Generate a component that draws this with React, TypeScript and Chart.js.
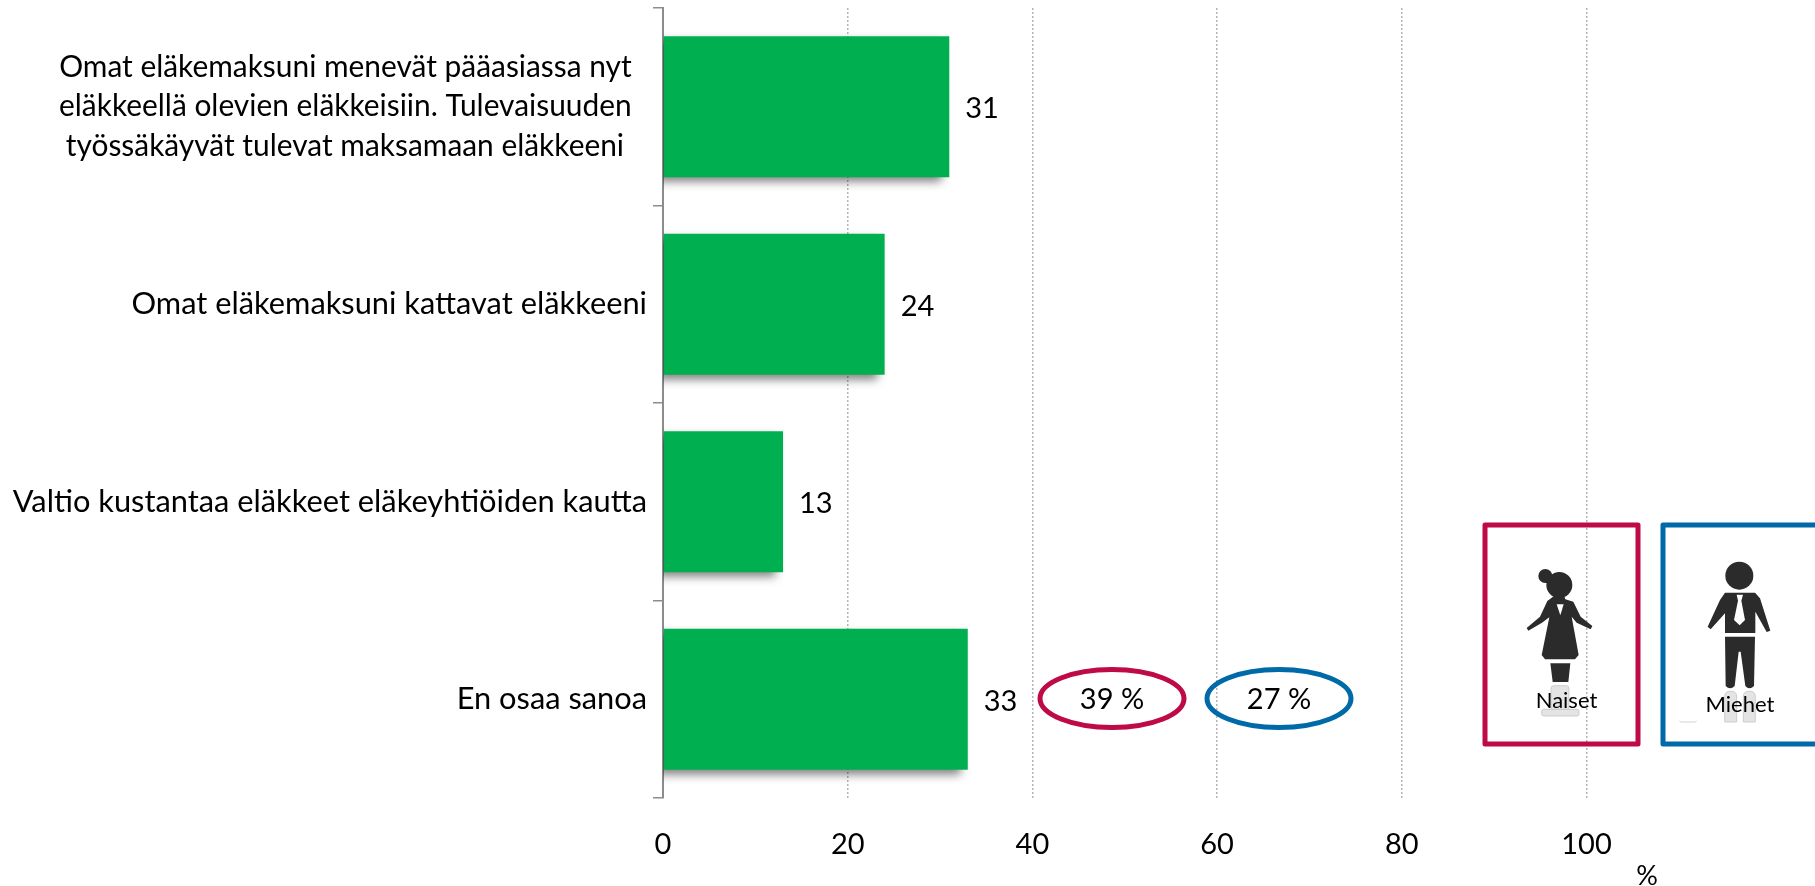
import React, { useEffect, useRef } from "react";
import { Chart, registerables } from "chart.js";

Chart.register(...registerables);

const categories: (string | string[])[] = [
  ["Omat eläkemaksuni menevät pääasiassa nyt\u00A0\u00A0", "eläkkeellä olevien eläkkeisiin. Tulevaisuuden\u00A0\u00A0", "työssäkäyvät tulevat maksamaan eläkkeeni\u00A0\u00A0\u00A0"],
  "Omat eläkemaksuni kattavat eläkkeeni",
  "Valtio kustantaa eläkkeet eläkeyhtiöiden kautta",
  "En osaa sanoa",
];
const values = [31, 24, 13, 33];
const FONT = "Lato, Carlito, 'Open Sans', sans-serif";
const CRIMSON = "#BE0A46";
const BLUE = "#0069A8";

function roundBox(ctx: CanvasRenderingContext2D, x0: number, y0: number, x1: number, y1: number, color: string) {
  ctx.strokeStyle = color;
  ctx.lineWidth = 5;
  ctx.lineJoin = "round";
  ctx.strokeRect(x0, y0, x1 - x0, y1 - y0);
}

function oval(ctx: CanvasRenderingContext2D, cx: number, cy: number, rx: number, ry: number, color: string, text: string) {
  ctx.beginPath();
  ctx.ellipse(cx, cy, rx, ry, 0, 0, Math.PI * 2);
  ctx.strokeStyle = color;
  ctx.lineWidth = 5;
  ctx.stroke();
  ctx.fillStyle = "#000";
  ctx.font = `29px ${FONT}`;
  ctx.textAlign = "center";
  ctx.textBaseline = "middle";
  ctx.fillText(text, cx, cy + 1);
}

// icons are traced in the zoomed (3x) space of the picture
function woman(ctx: CanvasRenderingContext2D) {
  ctx.save();
  ctx.translate(1460, 500);
  ctx.scale(1 / 3, 1 / 3);
  ctx.fillStyle = "#E4E4E4";
  ctx.strokeStyle = "#BDBDBD";
  ctx.lineWidth = 2;
  ctx.beginPath();
  ctx.roundRect(273, 557, 54, 72, 8);
  ctx.fill();
  ctx.stroke();
  ctx.beginPath();
  ctx.roundRect(245, 628, 112, 20, 6);
  ctx.fill();
  ctx.stroke();
  ctx.fillStyle = "#2B2B2B";
  ctx.beginPath();
  ctx.arc(256, 228, 21, 0, Math.PI * 2);
  ctx.arc(298, 255, 39, 0, Math.PI * 2);
  ctx.fill();
  ctx.beginPath();
  ctx.moveTo(286, 285);
  ctx.lineTo(312, 285);
  ctx.lineTo(316, 298);
  ctx.lineTo(340, 305);
  ctx.lineTo(362, 350);
  ctx.lineTo(397, 378);
  ctx.lineTo(392, 388);
  ctx.lineTo(350, 368);
  ctx.lineTo(335, 350);
  ctx.lineTo(356, 465);
  ctx.lineTo(345, 478);
  ctx.lineTo(255, 478);
  ctx.lineTo(245, 465);
  ctx.lineTo(268, 352);
  ctx.lineTo(246, 368);
  ctx.lineTo(205, 392);
  ctx.lineTo(200, 384);
  ctx.lineTo(240, 350);
  ctx.lineTo(262, 303);
  ctx.closePath();
  ctx.fill();
  ctx.beginPath();
  ctx.moveTo(271, 490);
  ctx.lineTo(331, 490);
  ctx.lineTo(325, 546);
  ctx.lineTo(278, 546);
  ctx.closePath();
  ctx.fill();
  ctx.fillStyle = "#fff";
  ctx.beginPath();
  ctx.moveTo(290, 313);
  ctx.lineTo(311, 313);
  ctx.lineTo(301, 346);
  ctx.closePath();
  ctx.fill();
  ctx.restore();
}

function man(ctx: CanvasRenderingContext2D) {
  ctx.save();
  ctx.translate(1460, 500);
  ctx.scale(1 / 3, 1 / 3);
  ctx.fillStyle = "#E4E4E4";
  ctx.strokeStyle = "#BDBDBD";
  ctx.lineWidth = 2;
  ctx.beginPath();
  ctx.roundRect(794, 574, 36, 92, [14, 14, 0, 0]);
  ctx.fill();
  ctx.stroke();
  ctx.beginPath();
  ctx.roundRect(850, 574, 36, 92, [14, 14, 0, 0]);
  ctx.fill();
  ctx.stroke();
  ctx.beginPath();
  ctx.moveTo(658, 662);
  ctx.lineTo(662, 666);
  ctx.lineTo(706, 666);
  ctx.lineTo(710, 662);
  ctx.stroke();
  ctx.fillStyle = "#2B2B2B";
  ctx.beginPath();
  ctx.arc(838, 227, 42, 0, Math.PI * 2);
  ctx.fill();
  ctx.beginPath();
  ctx.moveTo(795, 278);
  ctx.lineTo(885, 278);
  ctx.lineTo(900, 295);
  ctx.lineTo(931, 392);
  ctx.lineTo(920, 396);
  ctx.lineTo(886, 335);
  ctx.lineTo(886, 399);
  ctx.lineTo(795, 399);
  ctx.lineTo(795, 340);
  ctx.lineTo(752, 388);
  ctx.lineTo(743, 380);
  ctx.lineTo(780, 300);
  ctx.closePath();
  ctx.fill();
  ctx.beginPath();
  ctx.moveTo(795, 410);
  ctx.lineTo(885, 410);
  ctx.lineTo(882, 558);
  ctx.quadraticCurveTo(868, 572, 856, 558);
  ctx.lineTo(842, 455);
  ctx.lineTo(836, 455);
  ctx.lineTo(824, 558);
  ctx.quadraticCurveTo(810, 572, 797, 558);
  ctx.closePath();
  ctx.fill();
  ctx.fillStyle = "#fff";
  ctx.beginPath();
  ctx.moveTo(830, 284);
  ctx.lineTo(849, 284);
  ctx.lineTo(844, 302);
  ctx.lineTo(855, 360);
  ctx.lineTo(839, 376);
  ctx.lineTo(822, 360);
  ctx.lineTo(834, 302);
  ctx.closePath();
  ctx.fill();
  ctx.restore();
}

const overlay = {
  id: "overlay",
  beforeDatasetDraw(chart: any) {
    const c = chart.ctx;
    c.save();
    c.shadowColor = "rgba(0,0,0,0.5)";
    c.shadowBlur = 9;
    c.shadowOffsetX = -7;
    c.shadowOffsetY = 5;
  },
  afterDatasetDraw(chart: any) {
    chart.ctx.restore();
  },
  afterDraw(chart: any) {
    const c = chart.ctx;
    const xs = chart.scales.x;
    const ys = chart.scales.y;
    c.save();
    // value labels, positioned through the scales
    c.fillStyle = "#000";
    c.font = `29px ${FONT}`;
    c.textAlign = "left";
    c.textBaseline = "middle";
    values.forEach((v, i) => {
      c.fillText(String(v), xs.getPixelForValue(v) + 16, ys.getPixelForValue(i) + 2);
    });
    oval(c, 1112, 698.5, 72, 29, CRIMSON, "39 %");
    oval(c, 1279, 698.5, 72, 29, BLUE, "27 %");
    roundBox(c, 1485, 525, 1638, 744, CRIMSON);
    roundBox(c, 1663, 525, 1830, 744, BLUE);
    woman(c);
    man(c);
    c.fillStyle = "#000";
    c.font = `22px ${FONT}`;
    c.textAlign = "center";
    c.textBaseline = "middle";
    c.fillText("Naiset", 1566.5, 701);
    c.fillText("Miehet", 1740, 705);
    c.font = `27px ${FONT}`;
    c.fillText("%", 1647, 876);
    c.restore();
  },
};

export default function App() {
  const ref = useRef<HTMLCanvasElement>(null);
  useEffect(() => {
    const chart = new Chart(ref.current!, {
      type: "bar",
      data: {
        labels: categories as any,
        datasets: [{ data: values, backgroundColor: "#00B050", categoryPercentage: 1, barPercentage: 0.714 }],
      },
      options: {
        indexAxis: "y",
        animation: false,
        responsive: false,
        layout: { padding: { top: 8, right: 228.5, left: 0, bottom: 0 } },
        plugins: { legend: { display: false }, tooltip: { enabled: false }, title: { display: false } },
        scales: {
          x: {
            min: 0,
            max: 100,
            afterFit: (s: any) => { s.height = 88; s.paddingLeft = 0; s.paddingRight = 0; },
            border: { display: false, dash: [2, 2] },
            grid: { color: (ctx: any) => (ctx.tick && ctx.tick.value === 0 ? "rgba(0,0,0,0)" : "#B4B4B4"), lineWidth: 1.5, drawTicks: false },
            ticks: { stepSize: 20, color: "#000", font: { family: FONT, size: 29 }, padding: 29, maxRotation: 0 },
          },
          y: {
            afterFit: (s: any) => { s.width = 663; s.paddingTop = 0; s.paddingBottom = 0; },
            border: { display: true, color: "#8C8C8C", width: 2 },
            grid: { offset: true, drawOnChartArea: false, drawTicks: true, tickLength: 10, color: "#8C8C8C", lineWidth: 1.5 },
            ticks: {
              color: "#000",
              font: (ctx: any) => ({ family: FONT, size: ctx.index === 0 ? 29.9 : 30.8, lineHeight: 1.33 }),
              padding: 6,
              autoSkip: false,
              crossAlign: "near",
            },
          },
        },
      },
      plugins: [overlay],
    } as any);
    return () => chart.destroy();
  }, []);
  return (
    <div style={{ position: "absolute", left: 0, top: 0, width: 1815, height: 886, overflow: "hidden", background: "#fff" }}>
      <canvas ref={ref} width={1815} height={886} style={{ display: "block" }} />
    </div>
  );
}
